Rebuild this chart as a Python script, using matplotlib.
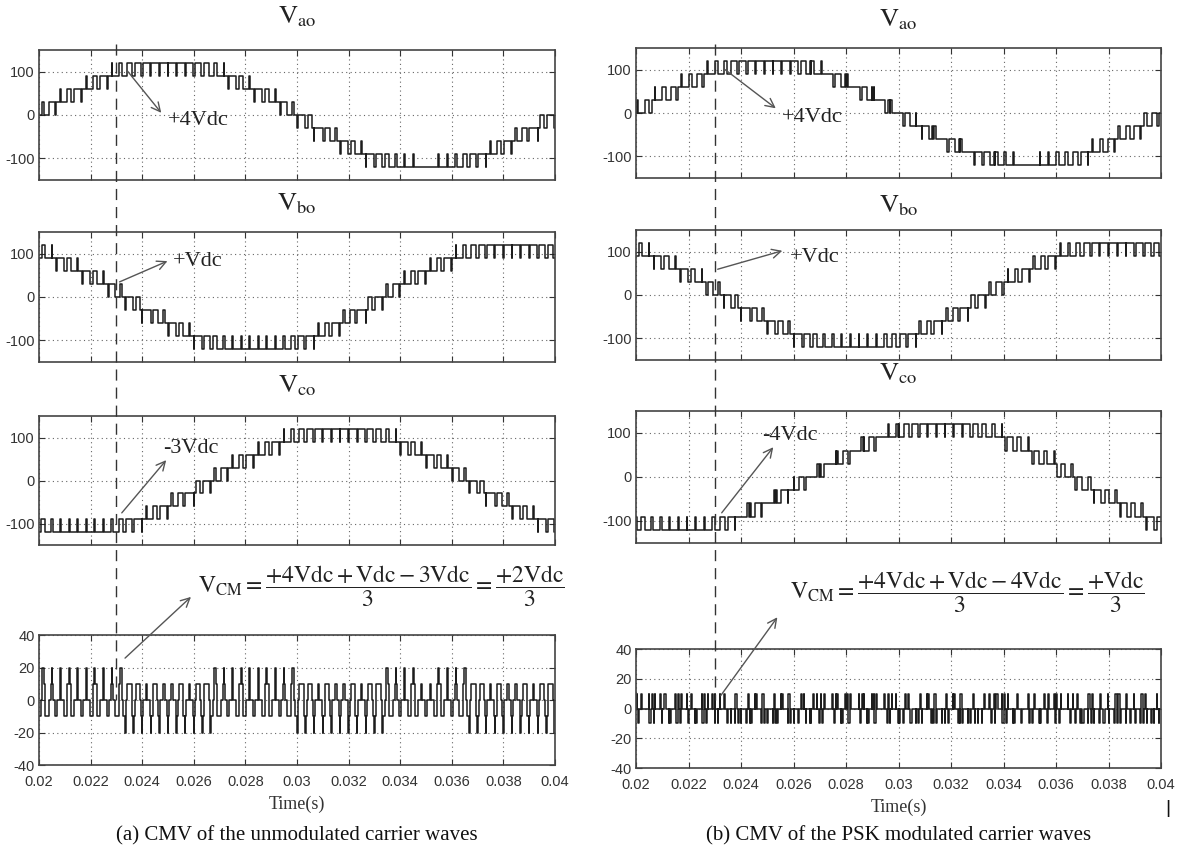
import numpy as np
import matplotlib
matplotlib.use('Agg')
import matplotlib.pyplot as plt
from matplotlib.patches import FancyArrowPatch
from matplotlib.transforms import blended_transform_factory

plt.rcParams['font.family'] = ['Liberation Sans', 'DejaVu Sans']
plt.rcParams['mathtext.fontset'] = 'stix'
plt.rcParams['axes.unicode_minus'] = False

# per carrier cycle average level of each phase, in units of Vdc (60 cycles from 0.02 s to 0.04 s)
vao = [0.21, 0.62, 1.02, 1.42, 1.79, 2.15, 2.49, 2.79, 3.07, 3.31, 3.52, 3.69, 3.82, 3.90, 3.94,
       3.94, 3.90, 3.82, 3.69, 3.52, 3.31, 3.07, 2.79, 2.49, 2.15, 1.79, 1.42, 1.02, 0.62, 0.21,
       -0.21, -0.62, -1.02, -1.42, -1.79, -2.15, -2.49, -2.79, -3.07, -3.31, -3.52, -3.69, -3.82, -3.90, -4.0,
       -4.0, -3.90, -3.82, -3.69, -3.52, -3.31, -3.07, -2.79, -2.49, -2.15, -1.79, -1.42, -1.02, -0.62, -0.21]
vbo = [3.31, 3.07, 2.79, 2.49, 2.15, 1.79, 1.42, 1.02, 0.62, 0.21,
       -0.21, -0.62, -1.02, -1.42, -1.79, -2.15, -2.49, -2.79, -3.07, -3.31, -3.52, -3.69, -3.82, -3.90, -3.94,
       -3.94, -3.90, -3.82, -3.69, -3.52, -3.31, -3.07, -2.79, -2.49, -2.15, -1.79, -1.42, -1.02, -0.62, -0.21,
       0.21, 0.62, 1.02, 1.42, 1.79, 2.15, 2.49, 2.79, 3.07, 3.31, 3.52, 3.69, 3.82, 3.90, 3.94,
       3.94, 3.90, 3.82, 3.69, 3.52]
vco = [-3.52, -3.69, -3.82, -3.90, -3.94, -3.94, -3.90, -3.82, -3.69, -3.52,
       -3.31, -3.07, -2.79, -2.49, -2.15, -1.79, -1.42, -1.02, -0.62, -0.21,
       0.21, 0.62, 1.02, 1.42, 1.79, 2.15, 2.49, 2.79, 3.07, 3.31, 3.52, 3.69, 3.82, 3.90, 3.94,
       3.94, 3.90, 3.82, 3.69, 3.52, 3.31, 3.07, 2.79, 2.49, 2.15, 1.79, 1.42, 1.02, 0.62, 0.21,
       -0.21, -0.62, -1.02, -1.42, -1.79, -2.15, -2.49, -2.79, -3.07, -3.31]

# common mode voltage: lowest level per cycle (units of Vdc/3) and pulse widths of the a, b, c contributions
cmv_base = [-1] * 10 + [-2] * 10 + [-1] * 10 + [-2] * 10 + [-1] * 10 + [-2] * 10
cmv_width = [(.21, .31, .48), (.62, .07, .31), (.02, .79, .18), (.42, .49, .10), (.79, .15, .06),
             (.15, .79, .06), (.49, .42, .10), (.79, .02, .18), (.07, .62, .31), (.31, .21, .48),
             (.52, .79, .69), (.69, .38, .93), (.82, .98, .21), (.90, .58, .51), (.94, .21, .85),
             (.94, .85, .21), (.90, .51, .58), (.82, .21, .98), (.69, .93, .38), (.52, .69, .79),
             (.31, .48, .21), (.07, .31, .62), (.79, .18, .02), (.49, .10, .42), (.15, .06, .79),
             (.79, .06, .15), (.42, .10, .49), (.02, .18, .79), (.62, .31, .07), (.21, .48, .31),
             (.79, .69, .52), (.38, .93, .69), (.98, .21, .82), (.58, .51, .90), (.21, .85, .94),
             (.85, .21, .94), (.51, .58, .90), (.21, .98, .82), (.93, .38, .69), (.69, .79, .52),
             (.48, .21, .31), (.31, .62, .07), (.18, .02, .79), (.10, .42, .49), (.00, .79, .15),
             (.00, .15, .79), (.10, .49, .42), (.18, .79, .02), (.31, .07, .62), (.48, .31, .21),
             (.69, .52, .79), (.93, .69, .38), (.21, .82, .98), (.51, .90, .58), (.85, .94, .21),
             (.21, .94, .85), (.58, .90, .51), (.98, .82, .21), (.38, .69, .93), (.79, .52, .69)]

VDC = 30
t_ticks = [0.02, 0.022, 0.024, 0.026, 0.028, 0.03, 0.032, 0.034, 0.036, 0.038, 0.04]
t_labels = ['0.02', '0.022', '0.024', '0.026', '0.028', '0.03', '0.032', '0.034', '0.036', '0.038', '0.04']
t_mark = 0.023
phase_titles = ['ao', 'bo', 'co']
notes_a = ['+4Vdc', '+Vdc', '-3Vdc']
notes_b = ['+4Vdc', '+Vdc', '-4Vdc']
eq_a = r'$\mathrm{V}_{\mathrm{CM}} = \dfrac{+4\mathrm{Vdc} + \mathrm{Vdc} - 3\mathrm{Vdc}}{3} = \dfrac{+2\mathrm{Vdc}}{3}$'
eq_b = r'$\mathrm{V}_{\mathrm{CM}} = \dfrac{+4\mathrm{Vdc} + \mathrm{Vdc} - 4\mathrm{Vdc}}{3} = \dfrac{+\mathrm{Vdc}}{3}$'
captions = ['(a) CMV of the unmodulated carrier waves', '(b) CMV of the PSK modulated carrier waves']


def pwm_trace(bases, widths, centers, t0=0.02, t1=0.04):
    T = (t1 - t0) / len(bases)
    ts, ys = [], []
    for i, (b, ws) in enumerate(zip(bases, widths)):
        edges = {0.0, 1.0}
        for w, c in zip(ws, centers):
            if 0 < w < 1:
                edges.add((c - w / 2) % 1.0)
                edges.add((c + w / 2) % 1.0)
        edges = sorted(edges)
        for a, e in zip(edges[:-1], edges[1:]):
            if e - a < 1e-9:
                continue
            m = (a + e) / 2
            on = sum(1 for w, c in zip(ws, centers) if (m - (c - w / 2)) % 1.0 < w)
            ts.append(t0 + (i + a) * T)
            ys.append(b + on)
    ts.append(t1)
    ys.append(ys[-1])
    return np.array(ts), np.array(ys)


W, H = 1184, 855
fig = plt.figure(figsize=(W / 100, H / 100), dpi=100)


def add_ax(l, t, r, b):
    return fig.add_axes([l / W, 1 - b / H, (r - l) / W, (b - t) / H])


def style(ax, bottom):
    ax.set_xlim(0.02, 0.04)
    ax.set_xticks(t_ticks)
    ax.grid(True, ls=(0, (1, 3)), color='#666', lw=0.8)
    ax.tick_params(direction='in', top=True, right=True, length=4, width=0.8,
                   labelsize=10.5, colors='#333', pad=3)
    for sp in ax.spines.values():
        sp.set_color('#444')
        sp.set_linewidth(1.2)
    if bottom:
        ax.set_xticklabels(t_labels)
        ax.tick_params(axis='x', pad=7)
        ax.set_xlabel('Time(s)', family='Liberation Serif', fontsize=13, color='#333', labelpad=5)
    else:
        ax.tick_params(labelbottom=False)


def fpx(x, y):
    return (x, H - y)


columns = [
    dict(left=39, right=555, rows=[(50, 180), (232, 362), (416, 545), (635, 765)],
         centers=(0.5, 0.5, 0.5), notes=notes_a, eq=eq_a, cap=captions[0],
         title_y=[23, 210, 392], note_xy=[(168, 125), (173, 266), (163, 453)],
         arrows=[((125, 68), (163, 115)), ((117, 283), (170, 260)), ((120, 515), (168, 458)),
                 ((123, 660), (193, 595))],
         eq_xy=(198, 586), dash_end=700),
    dict(left=636, right=1161, rows=[(48, 178), (230, 360), (411, 543), (649, 768)],
         centers=(1 / 6, 0.5, 5 / 6), notes=notes_b, eq=eq_b, cap=captions[1],
         title_y=[26, 212, 380], note_xy=[(782, 122), (790, 262), (762, 440)],
         arrows=[((723, 68), (778, 110)), ((715, 270), (785, 250)), ((720, 515), (775, 445)),
                 ((719, 698), (779, 615))],
         eq_xy=(790, 592), dash_end=700),
]

for col in columns:
    axes = []
    for k, (vals, name) in enumerate(zip([vao, vbo, vco], phase_titles)):
        top, bot = col['rows'][k]
        ax = add_ax(col['left'], top, col['right'], bot)
        v = np.array(vals)
        base = np.floor(v)
        t, y = pwm_trace(base, [(w,) for w in v - base], (col['centers'][k],))
        ax.step(t, y * VDC, where='post', color='#1c1c1c', lw=1.1)
        ax.set_ylim(-150, 150)
        ax.set_yticks([-100, 0, 100])
        style(ax, False)
        cx = (col['left'] + col['right']) / 2
        fig.text(cx / W, 1 - col['title_y'][k] / H, r'$\mathrm{V}_{\mathrm{%s}}$' % name,
                 fontsize=19, ha='center', va='baseline', color='#222')
        nx, ny = col['note_xy'][k]
        fig.text(nx / W, 1 - ny / H, col['notes'][k], family='Liberation Serif',
                 fontsize=16, ha='left', va='baseline', color='#222')
        axes.append(ax)

    top, bot = col['rows'][3]
    ax = add_ax(col['left'], top, col['right'], bot)
    t, y = pwm_trace(cmv_base, cmv_width, col['centers'])
    ax.step(t, y * VDC / 3, where='post', color='#1c1c1c', lw=1.1)
    ax.set_ylim(-40, 40)
    ax.set_yticks([-40, -20, 0, 20, 40])
    style(ax, True)
    axes.append(ax)

    for (x0, y0), (x1, y1) in col['arrows']:
        fig.add_artist(FancyArrowPatch(fpx(x0, y0), fpx(x1, y1), transform=None,
                                       arrowstyle='->', mutation_scale=16, color='#555', lw=1.0))

    ex, ey = col['eq_xy']
    fig.text(ex / W, 1 - ey / H, col['eq'], fontsize=17, ha='left', va='center', color='#222')

    tr = blended_transform_factory(axes[0].transData, fig.transFigure)
    fig.add_artist(plt.Line2D([t_mark, t_mark], [1 - 44 / H, 1 - col['dash_end'] / H],
                              transform=tr, color='#333', lw=1.0, dashes=(8, 5)))

    cx = (col['left'] + col['right']) / 2
    fig.text(cx / W, 1 - 836 / H, col['cap'], family='Liberation Serif', fontsize=15,
             ha='center', va='center', color='#111')

fig.text(1168 / W, 1 - 808 / H, '|', fontsize=14, ha='center', va='center', color='#111')

fig.savefig('out.png', dpi=100)
